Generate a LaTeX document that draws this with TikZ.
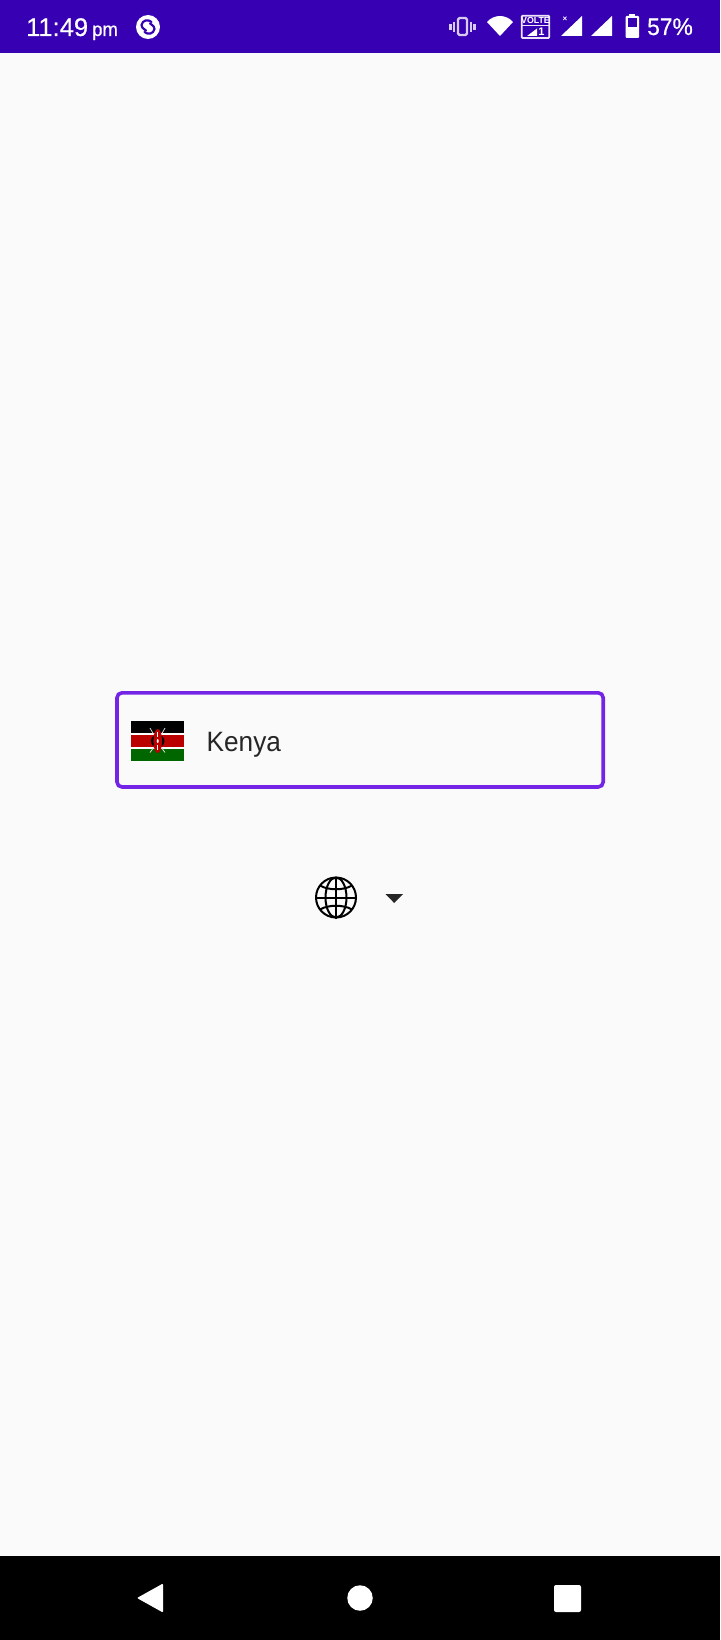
\documentclass[tikz,border=0pt]{standalone}
\usepackage{fontspec}
\setmainfont{Liberation Sans}
\newfontfamily\fieldfont[FakeStretch=0.935]{Liberation Sans}
\newfontfamily\statusfont[FakeBold=0.5,FakeStretch=0.95]{Liberation Sans}
\newfontfamily\clockfont[FakeBold=0.5]{Liberation Sans}
\usetikzlibrary{positioning}
\definecolor{barpurple}{HTML}{3700B3}
\definecolor{fieldpurple}{HTML}{7424E4}
\definecolor{pagegray}{HTML}{FAFAFA}
\definecolor{inkgray}{HTML}{262626}
\definecolor{flagred}{HTML}{BB0000}
\definecolor{flaggreen}{HTML}{006600}
\newcommand{\px}[1]{\fontsize{#1}{#1}\selectfont}

\begin{document}
\begin{tikzpicture}[
  x=1pt,y=-1pt,
  label/.style={inner sep=0pt,anchor=base west},
  statustext/.style={label,white},
  glyph/.style={fill=white,draw=none},
  vibrateline/.style={draw=white!80!barpurple,line width=2.4pt},
  globeline/.style={draw=black,line width=2pt},
  spear/.style={draw=white!70!gray,line width=0.8pt},
]

\useasboundingbox (0,0) rectangle (720,1640);
\fill[pagegray] (0,0) rectangle (720,1640);

% ---------- status bar ----------
\fill[barpurple] (0,0) rectangle (720,53);
\node[statustext,font=\clockfont\px{25.5}] (clock) at (26,36) {11:49};
\node[statustext,font=\statusfont\px{19.5}] (ampm) at (92,36) {pm};
\node[circle,fill=white,minimum size=24pt,inner sep=0pt] (shazam) at (148,27) {};
\draw[barpurple,line width=2.2pt,line cap=round]
  (151.5,22) .. controls (148,19) and (142.5,20) .. (141.5,25) .. controls (141.3,27) and (142.5,28) .. (146,30.5);
\draw[barpurple,line width=2.2pt,line cap=round]
  (144.5,32) .. controls (148,35) and (153.5,34) .. (154.5,29) .. controls (154.7,27) and (153.5,26) .. (150,23.5);

% vibrate, wifi
\draw[vibrateline,rounded corners=1.5pt] (458,18) rectangle (467,35);
\draw[vibrateline] (454,22) -- (454,32) (471,22) -- (471,32);
\draw[vibrateline] (450.5,24) -- (450.5,30) (474.5,24) -- (474.5,30);
\fill[glyph] (500,36) -- (487,22) .. controls (494,14) and (506,14) .. (513,22) -- cycle;

% volte
\draw[white!90!barpurple,line width=1.7pt,rounded corners=0.8pt] (521.8,15.8) rectangle (549.2,38);
\draw[white!90!barpurple,line width=1.5pt] (521.8,25.6) -- (549.2,25.6);
\node[white,inner sep=0pt,font=\px{8.8}\bfseries] (volte) at (535.5,20.8) {VOLTE};
\fill[glyph] (527,36) -- (537,28.5) -- (537,36) -- cycle;
\node[white,inner sep=0pt,font=\px{11}\bfseries] (simone) at (541.5,32) {1};

% signal
\fill[glyph] (561,36) -- (582,16) -- (582,36) -- cycle;
\node[white,inner sep=0pt,font=\px{8}\bfseries] (nosim) at (565,19.5) {×};
\fill[glyph] (591,36) -- (612,16) -- (612,36) -- cycle;

% battery
\fill[glyph] (629,14.5) rectangle (635,17);
\fill[glyph,rounded corners=1pt] (625.5,16) rectangle (639,38);
\fill[barpurple] (627.5,18.5) rectangle (637,27);
\node[statustext,font=\statusfont\px{24}] (level) at (647,35) {57\%};

% ---------- country field ----------
\draw[fieldpurple,line width=3.6pt,rounded corners=5pt,fill=pagegray] (117,692.8) rectangle (603.2,787);

\fill[white] (131,721) rectangle (184,761);
\fill[black] (131,721) rectangle (184,733);
\fill[flagred] (131,735) rectangle (184,747);
\fill[flaggreen] (131,749) rectangle (184,761);
\draw[spear] (150,728) -- (154,735) (165,728) -- (161,735);
\draw[spear] (150,752.5) -- (154,747) (165,752.5) -- (161,747);
\fill[black] (157.7,741) ellipse [x radius=6.7,y radius=6.5];
\fill[flagred] (157.7,741) ellipse [x radius=4.3,y radius=12];
\fill[white] (157.7,741) ellipse [x radius=1,y radius=2];
\draw[white,line width=1pt] (157.7,732) -- (157.7,737) (157.7,745) -- (157.7,750);

\node[label,font=\fieldfont\px{28},inkgray] (country) at (206.5,751) {Kenya};

% ---------- language picker ----------
\node[circle,globeline,minimum size=40pt,inner sep=0pt] (globe) at (336,897.5) {};
\draw[globeline] (globe.center) ellipse [x radius=10.5,y radius=20];
\draw[globeline] (globe.north) -- (globe.south) (globe.west) -- (globe.east);
\draw[globeline] (320,885.5) .. controls (328,890.5) and (344,890.5) .. (352,885.5);
\draw[globeline] (320,909.5) .. controls (328,904.5) and (344,904.5) .. (352,909.5);
\fill[inkgray] (385.5,894) -- (403,894) -- (394.2,903) -- cycle;

% ---------- navigation bar ----------
\fill[black] (0,1556) rectangle (720,1640);
\fill[glyph,rounded corners=1pt] (137,1598) -- (163,1583.5) -- (163,1612.5) -- cycle;
\node[circle,fill=white,minimum size=25.5pt,inner sep=0pt] (home) at (360,1598) {};
\node[rectangle,fill=white,rounded corners=2pt,minimum size=27pt,inner sep=0pt] (recents) at (567.5,1598.5) {};

\end{tikzpicture}
\end{document}
